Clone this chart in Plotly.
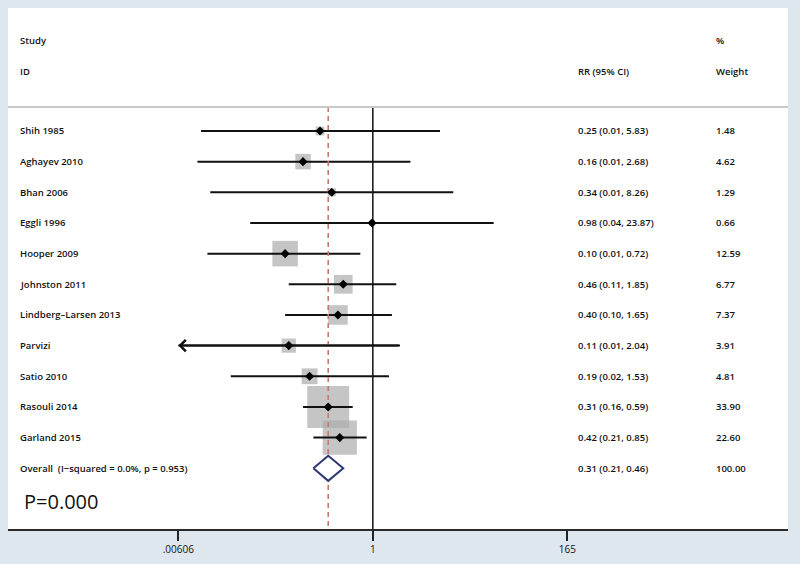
import numpy as np
import plotly.graph_objects as go

# ---------------- data ----------------
studies = ["Shih 1985", "Aghayev 2010", "Bhan 2006", "Eggli 1996", "Hooper 2009",
           "Johnston 2011", "Lindberg\u2013Larsen 2013", "Parvizi", "Satio 2010",
           "Rasouli 2014", "Garland 2015"]
rr = [0.25, 0.16, 0.34, 0.98, 0.10, 0.46, 0.40, 0.11, 0.19, 0.31, 0.42]
ci_low = [0.011, 0.010, 0.014, 0.040, 0.013, 0.11, 0.10, 0.0055, 0.024, 0.16, 0.21]
ci_high = [5.83, 2.68, 8.26, 23.87, 0.72, 1.85, 1.65, 2.04, 1.53, 0.59, 0.85]
weights = [1.48, 4.62, 1.29, 0.66, 12.59, 6.77, 7.37, 3.91, 4.81, 33.90, 22.60]

overall_label = "Overall\u00a0\u00a0(I\u2212squared = 0.0%, p = 0.953)"
overall_rr, overall_low, overall_high, overall_weight = 0.31, 0.21, 0.46, 100.00

tick_vals = [0.00606, 1, 165]
tick_text = [".00606", "1", "165"]
p_text = "P=0.000"

# ---------------- layout helpers ----------------
n = len(studies)
rows = list(range(n))
overall_row = n
x_min = tick_vals[0]
font_family = "Open Sans, Noto Sans, sans-serif"
txt_color = "#111111"

fig = go.Figure()

# weight squares
sizes = [7.2 * np.sqrt(w) for w in weights]
fig.add_trace(go.Scatter(
    x=rr, y=rows, mode="markers",
    marker=dict(symbol="square", size=sizes, color="#adadad", line=dict(width=0)),
    hoverinfo="skip", showlegend=False))

# CI lines (clipped at axis minimum)
for r, lo, hi in zip(rows, ci_low, ci_high):
    lo_c = max(lo, x_min)
    fig.add_trace(go.Scatter(
        x=[lo_c, hi], y=[r, r], mode="lines",
        line=dict(color="#111111", width=2),
        hoverinfo="skip", showlegend=False))

# null line at 1 and overall estimate line
sep_row = -0.78
bottom_row = 12.98
fig.add_trace(go.Scatter(
    x=[1, 1], y=[sep_row, bottom_row], mode="lines",
    line=dict(color="#111111", width=1.5), hoverinfo="skip", showlegend=False))
fig.add_trace(go.Scatter(
    x=[overall_rr, overall_rr], y=[sep_row, bottom_row], mode="lines",
    line=dict(color="#c47a70", width=1.6, dash="5px,4px"),
    hoverinfo="skip", showlegend=False))

# point estimates
fig.add_trace(go.Scatter(
    x=rr, y=rows, mode="markers",
    marker=dict(symbol="diamond", size=7, color="#000000"),
    hoverinfo="skip", showlegend=False))

# overall diamond
h = 0.41
fig.add_trace(go.Scatter(
    x=[overall_low, overall_rr, overall_high, overall_rr, overall_low],
    y=[overall_row, overall_row - h, overall_row, overall_row + h, overall_row],
    mode="lines", fill="toself", fillcolor="white",
    line=dict(color="#2e3870", width=2),
    hoverinfo="skip", showlegend=False))

annotations = []
# arrows for clipped CIs
for r, lo, hi in zip(rows, ci_low, ci_high):
    if lo < x_min:
        annotations.append(dict(
            x=np.log10(x_min), y=r, ax=np.log10(hi), ay=r,
            xref="x", yref="y", axref="x", ayref="y",
            text="", showarrow=True, arrowhead=4, arrowsize=1.1,
            arrowwidth=2, arrowcolor="#111111", standoff=0))

def txt(x, y, s, size=9.5):
    annotations.append(dict(
        x=x, y=y, xref="paper", yref="y", text=s, showarrow=False,
        xanchor="left", yanchor="middle",
        font=dict(family=font_family, size=size, color=txt_color, weight=600)))

col_study, col_ci, col_w = 0.0128, 0.728, 0.905
txt(col_study, -2.95, "Study")
txt(col_study, -1.95, "ID")
txt(col_ci, -1.95, "RR (95% CI)")
txt(col_w, -2.95, "%")
txt(col_w, -1.95, "Weight")

for r, s, v, lo, hi, w in zip(rows, studies, rr, ci_low, ci_high, weights):
    txt(col_study, r, s)
    txt(col_ci, r, f"{v:.2f} ({lo:.2f}, {hi:.2f})")
    txt(col_w, r, f"{w:.2f}")

txt(col_study, overall_row, overall_label)
txt(col_ci, overall_row, f"{overall_rr:.2f} ({overall_low:.2f}, {overall_high:.2f})")
txt(col_w, overall_row, f"{overall_weight:.2f}")

annotations.append(dict(
    x=0.018, y=12.07, xref="paper", yref="y", text=p_text, showarrow=False,
    xanchor="left", yanchor="middle",
    font=dict(family=font_family, size=20, color="#111111")))

fig.update_layout(
    width=800, height=564,
    margin=dict(l=8, r=12, t=8, b=31),
    paper_bgcolor="#dee7ee",
    plot_bgcolor="white",
    annotations=annotations,
    shapes=[dict(type="line", xref="paper", yref="y", x0=0, x1=1,
                 y0=sep_row, y1=sep_row, line=dict(color="#c8c8c8", width=2))],
    xaxis=dict(type="log", range=[-4.160, 4.734], tickvals=tick_vals,
               ticktext=tick_text, ticks="outside", ticklen=10, tickwidth=1.5,
               tickcolor="#222222", showline=True, linecolor="#2a2a2a",
               linewidth=2, showgrid=False, zeroline=False,
               tickfont=dict(family=font_family, size=10, color=txt_color),
               fixedrange=True),
    yaxis=dict(range=[12.98, -4.01], visible=False, showgrid=False,
               zeroline=False, fixedrange=True),
)

fig.write_html("out.html", config={"displayModeBar": False},
               post_script="document.body.style.margin='0';"
                           "document.body.style.background='#dee7ee';")
